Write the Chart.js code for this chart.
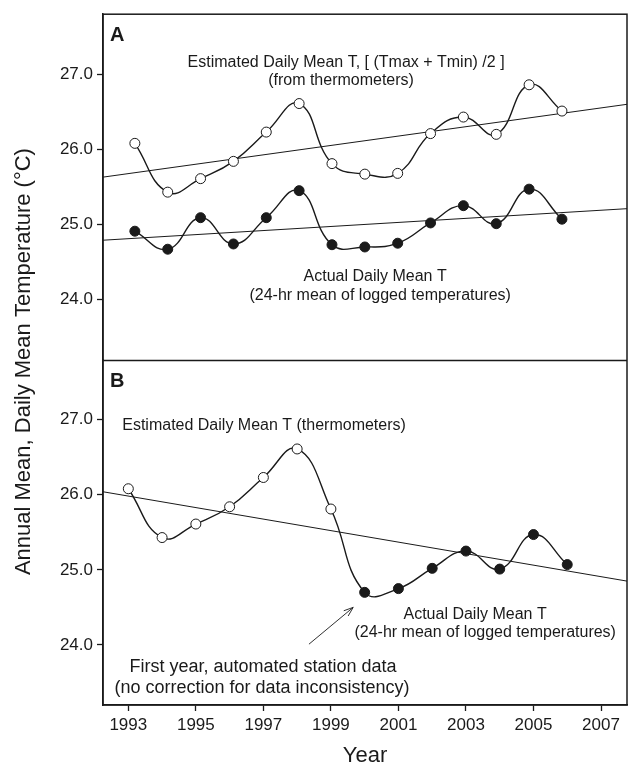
<!DOCTYPE html>
<html>
<head>
<meta charset="utf-8">
<script src="https://cdn.jsdelivr.net/npm/chart.js@4.4.1/dist/chart.umd.min.js"></script>
<style>
  html, body { margin: 0; padding: 0; background: #fff; }
  #wrap { width: 636px; height: 769px; }
</style>
</head>
<body>
<div id="wrap"><canvas id="tempChart"></canvas></div>
<script>
// values
const years = [1993, 1994, 1995, 1996, 1997, 1998, 1999, 2000, 2001, 2002, 2003, 2004, 2005, 2006];
const estimatedT = [26.08, 25.43, 25.61, 25.84, 26.23, 26.61, 25.81, 25.67, 25.68, 26.21, 26.43, 26.20, 26.86, 26.51];
const actualT = [24.91, 24.67, 25.09, 24.74, 25.09, 25.45, 24.73, 24.70, 24.75, 25.02, 25.25, 25.01, 25.47, 25.07];
const firstLoggedYear = 2000;

// axis limits and ticks
const xRangeA = [1992.03, 2007.98];
const xRangeB = [1992.25, 2007.77];
const yRange = [23.2, 27.8];
const xTicks = [1993, 1995, 1997, 1999, 2001, 2003, 2005, 2007];
const yTicks = [24, 25, 26, 27];

// linear fits (end values at the panel edges)
const trendEstA = [25.63, 26.60];
const trendActA = [24.79, 25.21];
const trendB = [26.04, 24.85];

const INK = '#1a1a1a';
const FONT = '"Liberation Sans", Arial, Helvetica, sans-serif';

function pts(xs, ys) {
    return xs.map((x, i) => ({ x: x, y: ys[i] }));
}

const combinedB = years.map((yr, i) => yr < firstLoggedYear ? estimatedT[i] : actualT[i]);
const fillB = years.map(yr => yr < firstLoggedYear ? '#ffffff' : INK);

const curveStyle = {
    borderColor: INK,
    borderWidth: 1.4,
    tension: 0.45,
    pointRadius: 5,
    pointHoverRadius: 5,
    pointBorderColor: INK,
    pointBorderWidth: 1
};
const trendStyle = {
    borderColor: INK,
    borderWidth: 1,
    pointRadius: 0,
    tension: 0
};

function setTicks(values) {
    return function (scale) {
        scale.ticks = values.map(v => ({ value: v }));
    };
}

function yAxis(weight) {
    return {
        type: 'linear',
        position: 'left',
        stack: 'panels',
        stackWeight: 1,
        min: yRange[0],
        max: yRange[1],
        afterBuildTicks: setTicks(yTicks),
        afterFit: function (scale) { scale.width = 103; },
        grid: { drawOnChartArea: false, drawTicks: true, tickLength: 6, tickColor: INK, tickWidth: 1.3 },
        border: { display: true, color: INK, width: 1.5 },
        ticks: {
            color: INK,
            padding: 4,
            font: { family: FONT, size: 17 },
            callback: v => Number(v).toFixed(1)
        }
    };
}

// text, arrow, frame
const annotations = {
    id: 'annotations',
    afterDraw(chart) {
        const ctx = chart.ctx;
        const area = chart.chartArea;
        const xA = chart.scales.xA, xB = chart.scales.xB;
        const yA = chart.scales.yA, yB = chart.scales.yB;

        ctx.save();
        ctx.strokeStyle = INK;
        ctx.lineWidth = 1.5;
        ctx.strokeRect(area.left, area.top, area.right - area.left, area.bottom - area.top);
        const split = Math.round(Math.max(yA.bottom, yB.top)) + 0.5;
        ctx.beginPath();
        ctx.moveTo(area.left, split);
        ctx.lineTo(area.right, split);
        ctx.stroke();

        ctx.fillStyle = INK;
        ctx.textAlign = 'center';
        ctx.textBaseline = 'middle';

        function label(sx, sy, x, y, str, size) {
            ctx.font = (size || 16) + 'px ' + FONT;
            ctx.fillText(str, sx.getPixelForValue(x), sy.getPixelForValue(y));
        }

        label(xB, yA, 1999.45, 27.15, 'Estimated Daily Mean T, [ (Tmax + Tmin) /2 ]');
        label(xB, yA, 1999.30, 26.92, '(from thermometers)');
        label(xB, yA, 2000.31, 24.30, 'Actual Daily Mean T');
        label(xB, yA, 2000.46, 24.05, '(24-hr mean of logged temperatures)');

        label(xB, yB, 1997.02, 26.92, 'Estimated Daily Mean T (thermometers)');
        label(xB, yB, 2003.27, 24.41, 'Actual Daily Mean T');
        label(xB, yB, 2003.57, 24.16, '(24-hr mean of logged temperatures)');
        label(xB, yB, 1996.99, 23.70, 'First year, automated station data', 18);
        label(xB, yB, 1996.96, 23.43, '(no correction for data inconsistency)', 18);

        // arrow pointing at the first logged year
        const x0 = xB.getPixelForValue(1998.35), y0 = yB.getPixelForValue(24.01);
        const x1 = xB.getPixelForValue(1999.66), y1 = yB.getPixelForValue(24.50);
        const ang = Math.atan2(y1 - y0, x1 - x0);
        ctx.lineWidth = 0.9;
        ctx.beginPath();
        ctx.moveTo(x0, y0);
        ctx.lineTo(x1, y1);
        ctx.moveTo(x1 - 10 * Math.cos(ang - 0.35), y1 - 10 * Math.sin(ang - 0.35));
        ctx.lineTo(x1, y1);
        ctx.lineTo(x1 - 10 * Math.cos(ang + 0.35), y1 - 10 * Math.sin(ang + 0.35));
        ctx.stroke();

        // panel letters
        ctx.textAlign = 'left';
        ctx.font = 'bold 20px ' + FONT;
        ctx.fillText('A', area.left + 7, yA.top + 21);
        ctx.fillText('B', area.left + 7, yB.top + 22);

        // axis titles
        ctx.textAlign = 'center';
        ctx.font = '22px ' + FONT;
        ctx.fillText('Year', (area.left + area.right) / 2, 756);
        ctx.translate(24, (area.top + area.bottom) / 2 + 2);
        ctx.rotate(-Math.PI / 2);
        ctx.fillText('Annual Mean, Daily Mean Temperature (\u00B0C)', 0, 0);
        ctx.restore();
    }
};

const ctx = document.getElementById('tempChart').getContext('2d');
new Chart(ctx, {
    type: 'line',
    data: {
        datasets: [
            Object.assign({ label: 'Estimated (A)', xAxisID: 'xA', yAxisID: 'yA', data: pts(years, estimatedT), pointBackgroundColor: '#ffffff' }, curveStyle),
            Object.assign({ label: 'Actual (A)', xAxisID: 'xA', yAxisID: 'yA', data: pts(years, actualT), pointBackgroundColor: INK }, curveStyle),
            Object.assign({ label: 'Combined (B)', xAxisID: 'xB', yAxisID: 'yB', data: pts(years, combinedB), pointBackgroundColor: fillB }, curveStyle),
            Object.assign({ label: 'Fit estimated (A)', xAxisID: 'xA', yAxisID: 'yA', data: pts(xRangeA, trendEstA) }, trendStyle),
            Object.assign({ label: 'Fit actual (A)', xAxisID: 'xA', yAxisID: 'yA', data: pts(xRangeA, trendActA) }, trendStyle),
            Object.assign({ label: 'Fit (B)', xAxisID: 'xB', yAxisID: 'yB', data: pts(xRangeB, trendB) }, trendStyle)
        ]
    },
    options: {
        responsive: true,
        maintainAspectRatio: false,
        animation: false,
        layout: { padding: { top: 6, right: 9, left: 0, bottom: 0 } },
        plugins: {
            legend: { display: false },
            tooltip: { enabled: false }
        },
        scales: {
            xB: {
                type: 'linear',
                position: 'bottom',
                min: xRangeB[0],
                max: xRangeB[1],
                afterBuildTicks: setTicks(xTicks),
                afterFit: function (scale) { scale.height = 64; },
                grid: { drawOnChartArea: false, drawTicks: true, tickLength: 6, tickColor: INK, tickWidth: 1.3 },
                border: { display: true, color: INK, width: 1.5 },
                ticks: {
                    color: INK,
                    padding: 4,
                    maxRotation: 0,
                    font: { family: FONT, size: 17 },
                    callback: v => String(v)
                }
            },
            xA: {
                type: 'linear',
                position: 'bottom',
                display: false,
                min: xRangeA[0],
                max: xRangeA[1]
            },
            yB: yAxis(),
            yA: yAxis()
        }
    },
    plugins: [annotations]
});
</script>
</body>
</html>
